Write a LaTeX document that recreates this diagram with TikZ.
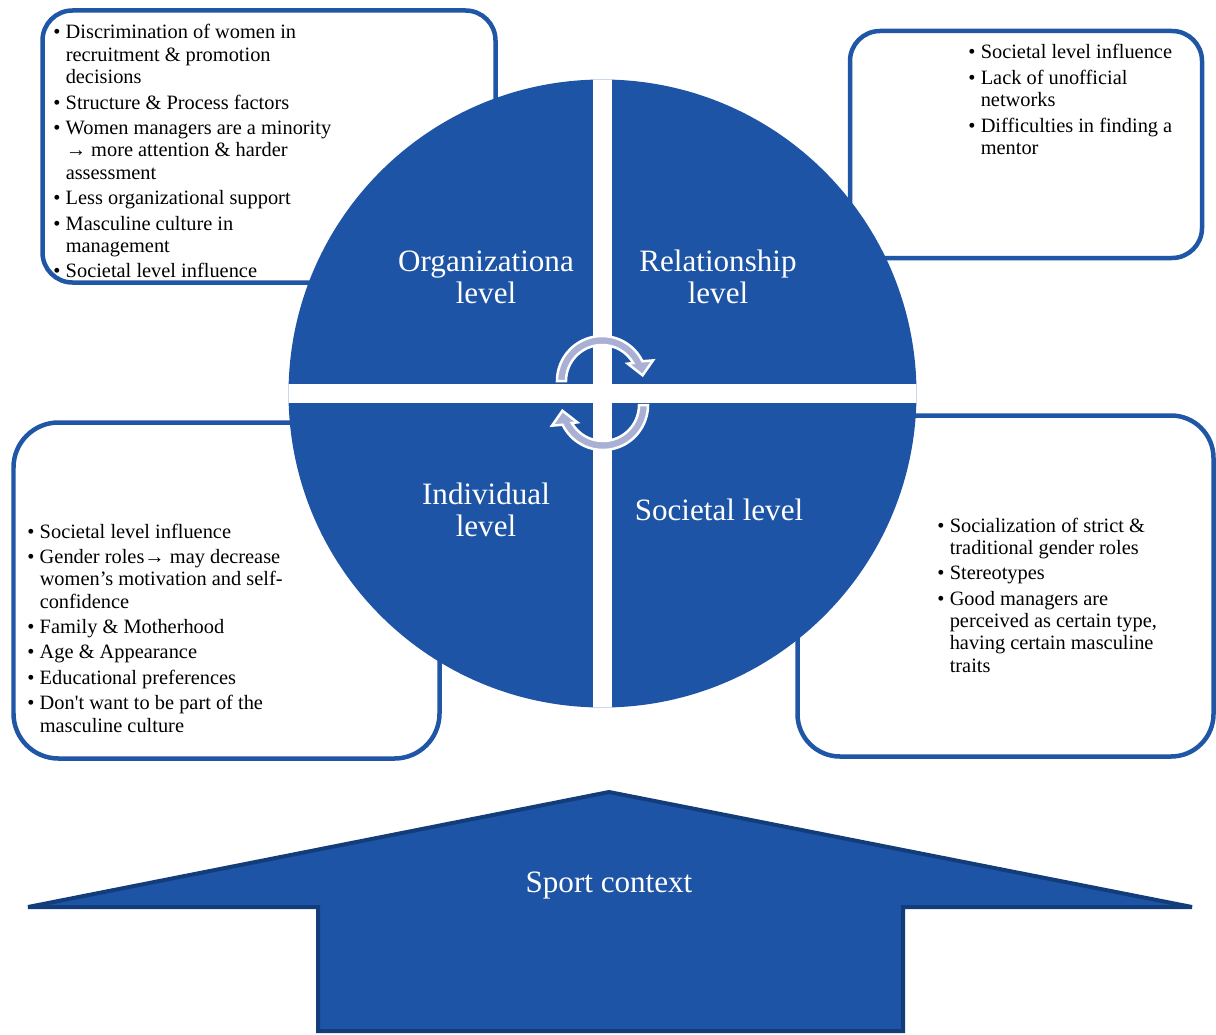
\documentclass[tikz,border=0pt]{standalone}
\usepackage{fontspec}
\setmainfont{Liberation Serif}
\definecolor{levelblue}{RGB}{30,84,165}
\definecolor{boxblue}{RGB}{31,86,166}
\definecolor{arrowrim}{RGB}{18,61,122}
\definecolor{cyclefill}{RGB}{169,176,211}

\begin{document}
\begin{tikzpicture}[x=0.02cm,y=-0.02cm]
\tikzset{infobox/.style={draw=boxblue, fill=white, line width=0.09cm, rounded corners=0.6cm},
  bullets/.style={anchor=base west, inner sep=0pt, font=\fontsize{11.6}{12.75}\selectfont},
  lvl/.style={text=white, align=center, inner sep=0pt, font=\fontsize{17.7}{18.2}\selectfont},
  cyclearrow/.style={fill=cyclefill, draw=white, line width=0.05cm},
  sportarrow/.style={fill=levelblue, draw=arrowrim, line width=0.08cm}}
\useasboundingbox (0,0) rectangle (1216,1034);
% text boxes behind the circle
\draw[infobox] (42.5,10.5) rectangle (495.5,282.5);
\draw[infobox] (850,31) rectangle (1202,258);
\draw[infobox, rounded corners=0.9cm] (13.5,422.5) rectangle (439.5,758.5);
\draw[infobox, rounded corners=0.85cm] (797.5,415.5) rectangle (1213.5,756.5);
% the four levels
\fill[levelblue] (602.5,393.5) circle [radius=314];
\begin{scope}
\clip (602.5,393.5) circle [radius=314];
\fill[white] (593,60) rectangle (612,730);
\fill[white] (280,384) rectangle (925,403);
\end{scope}
\node[lvl] (orglabel) at (486,277) {Organizationa\\level};
\node[lvl] (rellabel) at (718,277) {Relationship\\level};
\node[lvl] (indlabel) at (486,510) {Individual\\level};
\node[lvl] (soclabel) at (719,510) {Societal level};
% cycle arrows
\begin{scope}[shift={(602,381)}]
\filldraw[cyclearrow] (180:36) arc[start angle=180, end angle=330, radius=36] -- (326:31) -- (352:41)
  -- (338:55) -- (334:45) arc[start angle=334, end angle=180, radius=45] -- cycle;
\end{scope}
\begin{scope}[shift={(603,405)}, rotate=180]
\filldraw[cyclearrow] (180:36) arc[start angle=180, end angle=330, radius=36] -- (326:31) -- (352:41)
  -- (338:55) -- (334:45) arc[start angle=334, end angle=180, radius=45] -- cycle;
\end{scope}
% box texts
\node[bullets] (orgtext) at (53,39) {\begin{tabular}[t]{@{}l@{\hspace{3pt}}l@{}}
\textbullet & Discrimination of women in\\
 & recruitment \& promotion\\
 & decisions\\[1.7pt]
\textbullet & Structure \& Process factors\\[1.7pt]
\textbullet & Women managers are a minority\\
 & → more attention \& harder\\
 & assessment\\[1.7pt]
\textbullet & Less organizational support\\[1.7pt]
\textbullet & Masculine culture in\\
 & management\\[1.7pt]
\textbullet & Societal level influence
\end{tabular}};
\node[bullets] (reltext) at (968,59) {\begin{tabular}[t]{@{}l@{\hspace{3pt}}l@{}}
\textbullet & Societal level influence\\[1.7pt]
\textbullet & Lack of unofficial\\
 & networks\\[1.7pt]
\textbullet & Difficulties in finding a\\
 & mentor
\end{tabular}};
\node[bullets] (indtext) at (27,538) {\begin{tabular}[t]{@{}l@{\hspace{3pt}}l@{}}
\textbullet & Societal level influence\\[1.7pt]
\textbullet & Gender roles→ may decrease\\
 & women’s motivation and self-\\
 & confidence\\[1.7pt]
\textbullet & Family \& Motherhood\\[1.7pt]
\textbullet & Age \& Appearance\\[1.7pt]
\textbullet & Educational preferences\\[1.7pt]
\textbullet & Don\textquotesingle t want to be part of the\\
 & masculine culture
\end{tabular}};
\node[bullets] (soctext) at (937,532) {\begin{tabular}[t]{@{}l@{\hspace{3pt}}l@{}}
\textbullet & Socialization of strict \&\\
 & traditional gender roles\\[1.7pt]
\textbullet & Stereotypes\\[1.7pt]
\textbullet & Good managers are\\
 & perceived as certain type,\\
 & having certain masculine\\
 & traits
\end{tabular}};
% sport context arrow
\filldraw[sportarrow] (609,792) -- (28,907) -- (318,907) -- (318,1031) -- (903,1031)
  -- (903,907) -- (1192,907) -- cycle;
\node[lvl] (sport) at (609,886) {Sport context};
\end{tikzpicture}
\end{document}
